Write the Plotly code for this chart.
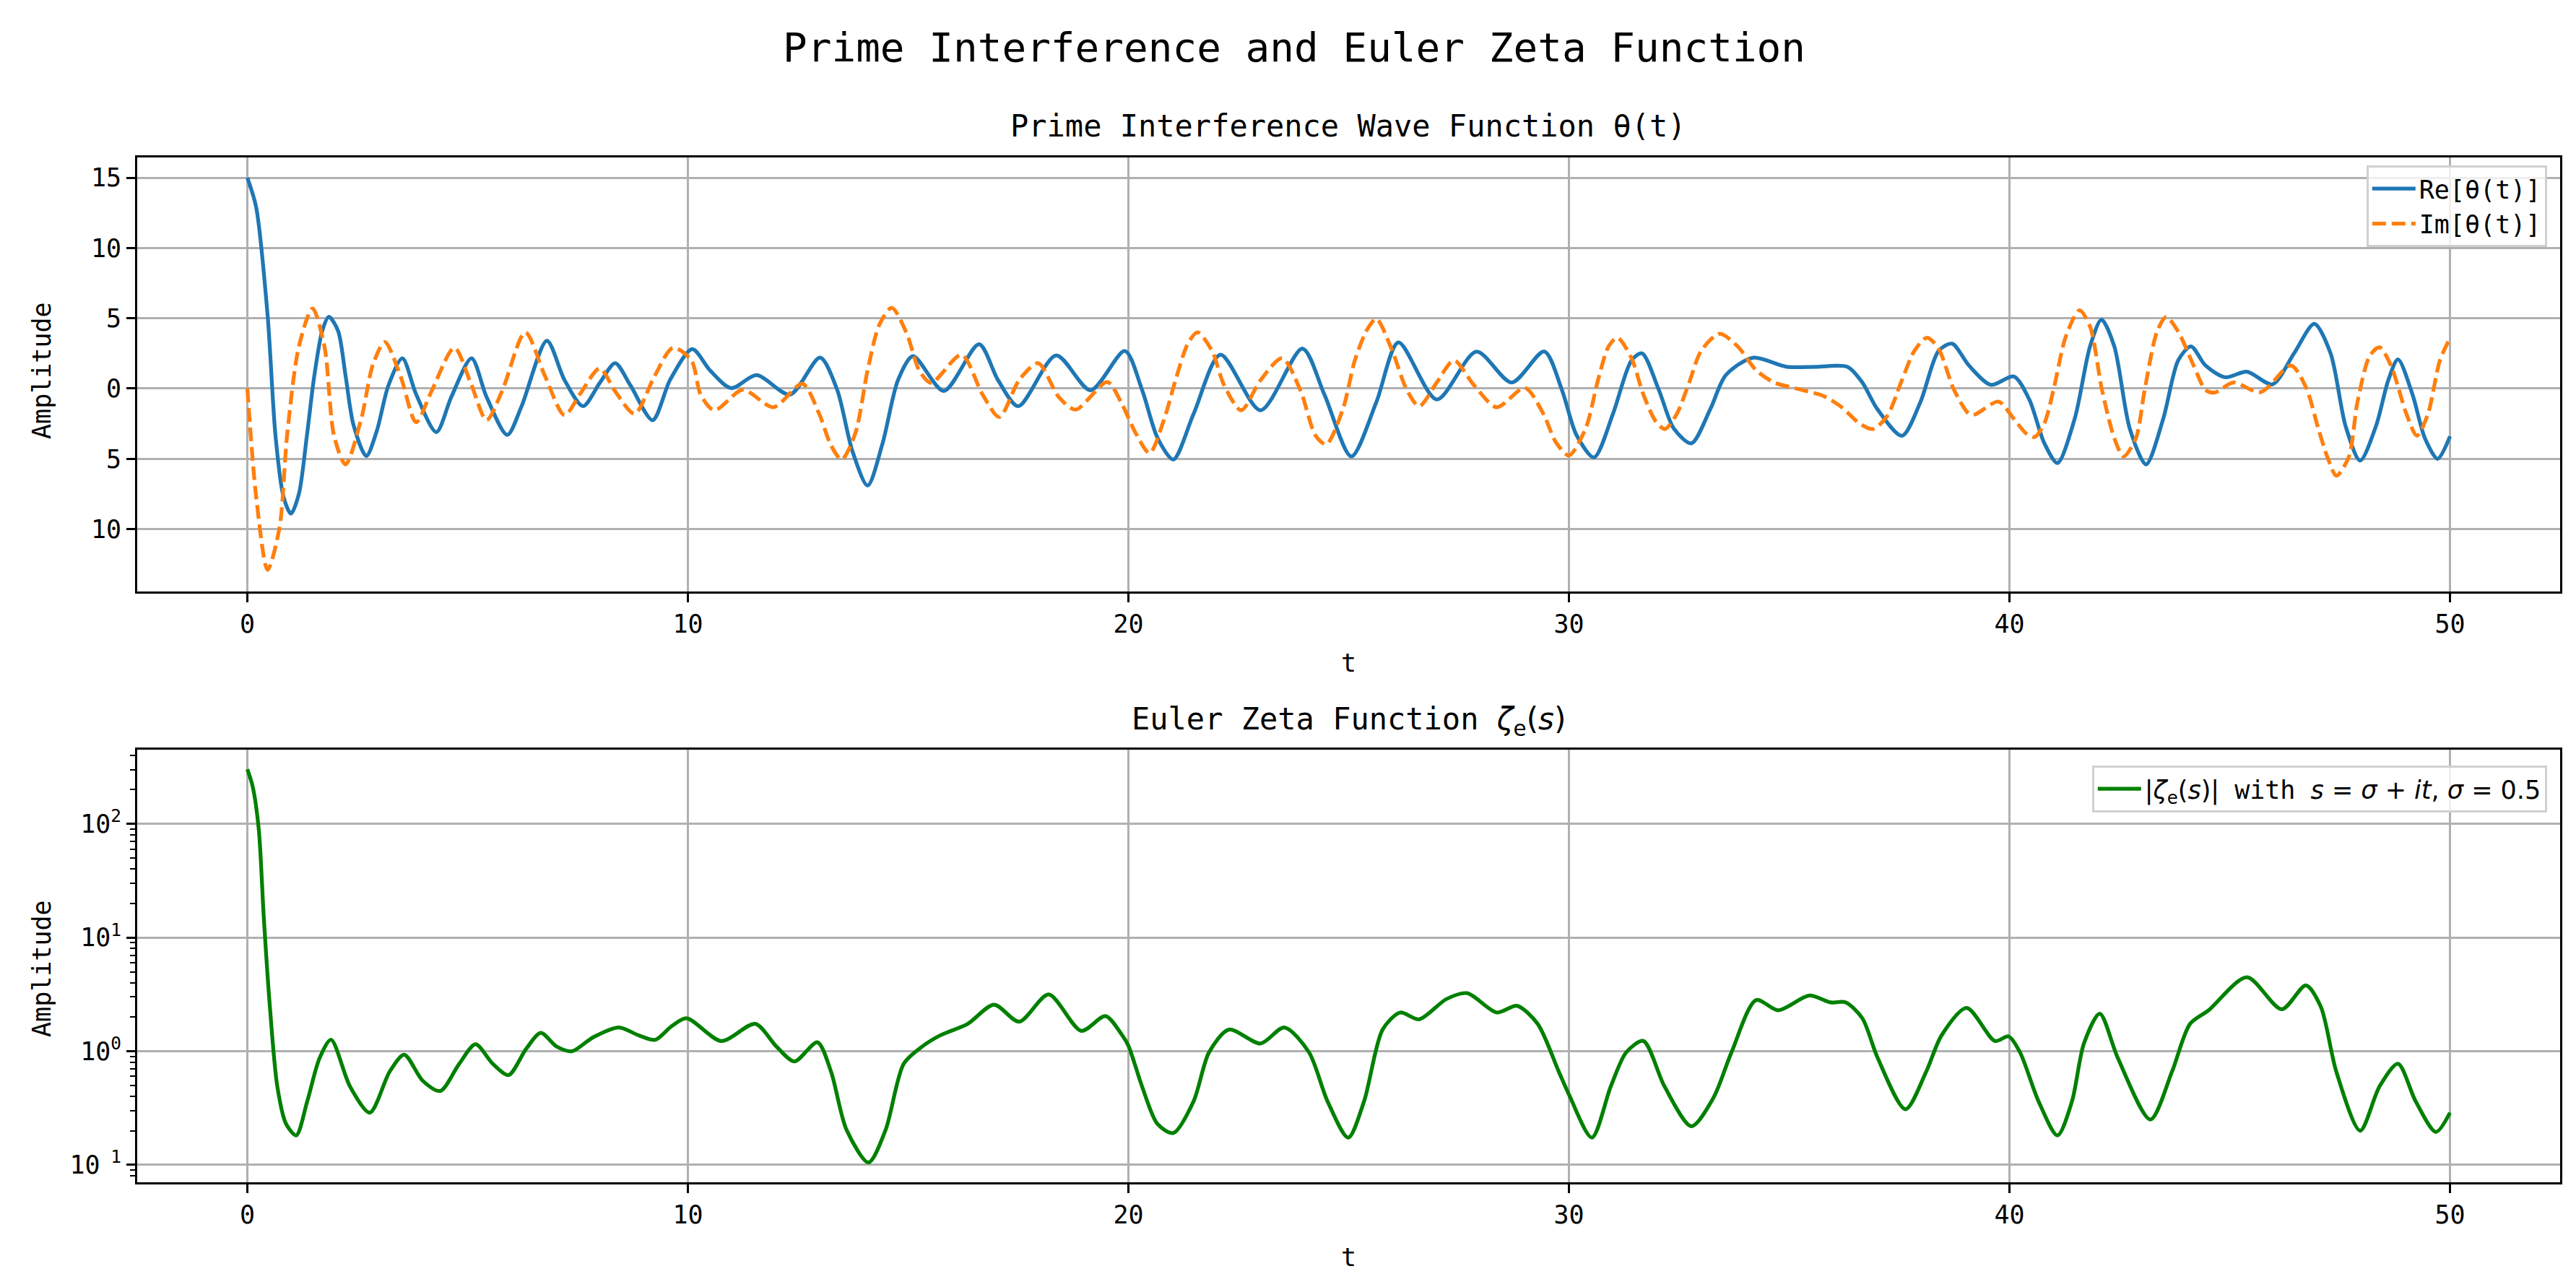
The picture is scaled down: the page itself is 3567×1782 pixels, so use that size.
import plotly.graph_objects as go

# values (local peaks/troughs and a few points between)
t_re = [0, 0.2, 0.46, 0.64, 0.82, 0.99, 1.17, 1.35, 1.52, 1.7, 1.85, 2.06, 2.23, 2.41, 2.7,
        2.94, 3.2, 3.52, 3.83, 4.29, 4.63, 5.09, 5.43, 5.9, 6.22, 6.8, 7.2, 7.62, 8.0, 8.35,
        8.7, 9.2, 9.6, 10.1, 10.5, 10.98, 11.56, 12.32, 13.0, 13.39, 13.73, 14.08, 14.42,
        14.77, 15.11, 15.81, 16.61, 17.04, 17.5, 18.36, 19.14, 19.92, 20.31, 20.66, 21.02,
        21.48, 22.09, 23.0, 23.95, 24.45, 25.06, 25.63, 26.13, 27.0, 27.9, 28.7, 29.44,
        29.84, 30.17, 30.57, 31.0, 31.42, 31.66, 32.04, 32.38, 32.78, 33.21, 33.56, 34.18,
        34.94, 35.63, 36.32, 36.66, 37.0, 37.56, 37.98, 38.39, 38.7, 39.08, 39.58, 40.1,
        40.45, 40.79, 41.09, 41.48, 41.83, 42.09, 42.38, 42.73, 43.1, 43.49, 43.83, 44.12,
        44.45, 44.9, 45.39, 45.97, 46.46, 46.92, 47.29, 47.63, 47.96, 48.32, 48.6, 48.82,
        49.15, 49.43, 49.72, 50.0]
re_theta = [15, 12.9, 5.2, -3.4, -7.7, -8.9, -7.5, -3.4, 0.9, 4.1, 5.1, 4.1, 0.9, -2.6, -4.8,
            -3.0, 0.2, 2.15, -0.4, -3.1, -0.6, 2.15, -0.6, -3.3, -1.3, 3.4, 0.6, -1.25, 0.4, 1.8,
            0.2, -2.25, 0.64, 2.8, 1.3, 0.03, 0.95, -0.43, 2.2, -0.1, -4.4, -6.9, -3.9,
            0.6, 2.3, -0.17, 3.15, 0.6, -1.26, 2.36, -0.12, 2.67, -0.09, -3.5, -5.05,
            -1.8, 2.41, -1.55, 2.84, -0.43, -4.83, -0.95, 3.28, -0.78, 2.62, 0.43, 2.64,
            -0.09, -3.3, -4.9, -1.8, 2.0, 2.5, -0.09, -2.84, -3.9, -1.46, 0.95, 2.19,
            1.55, 1.55, 1.55, 0.43, -1.46, -3.36, -0.95, 2.67, 3.19, 1.64, 0.26, 0.86,
            -0.78, -3.88, -5.3, -2.16, 3.0, 4.9, 3.0, -2.84, -5.4, -2.16, 2.0, 3.0,
            1.64, 0.8, 1.2, 0.3, 2.5, 4.6, 2.5, -2.67, -5.12, -2.67, 0.6, 2.07,
            -0.43, -3.53, -5.0, -3.4]

t_im = [0, 0.2, 0.46, 0.73, 0.9, 1.17, 1.48, 1.75, 1.97, 2.23, 2.59, 2.85, 3.12, 3.48, 3.83,
        4.18, 4.7, 5.07, 5.43, 5.78, 6.31, 6.76, 7.2, 7.55, 8.0, 8.35, 8.79, 9.24, 9.66,
        10.08, 10.29, 10.6, 11.25, 11.94, 12.6, 12.98, 13.25, 13.49, 13.8, 14.08, 14.35,
        14.63, 14.97, 15.25, 15.52, 16.21, 16.69, 17.07, 17.52, 17.95, 18.42, 18.8, 19.52,
        19.83, 20.17, 20.48, 20.8, 21.07, 21.35, 21.57, 21.9, 22.17, 22.56, 23.0, 23.49,
        23.9, 24.25, 24.49, 24.87, 25.14, 25.42, 25.63, 25.97, 26.32, 26.6, 27.0, 27.39,
        27.84, 28.36, 29.0, 29.42, 29.7, 30.0, 30.38, 30.66, 30.9, 31.1, 31.42, 31.69,
        31.97, 32.18, 32.45, 32.73, 33.0, 33.42, 33.83, 34.25, 34.66, 35.28, 35.77, 36.18,
        36.6, 36.9, 37.22, 37.56, 37.84, 38.13, 38.39, 38.74, 39.08, 39.22, 39.75, 40.1,
        40.38, 40.57, 40.79, 41.0, 41.28, 41.59, 41.83, 42.1, 42.38, 42.59, 42.87, 43.07,
        43.35, 43.56, 43.83, 44.18, 44.45, 44.66, 45.08, 45.7, 46.39, 46.73, 47.01, 47.22,
        47.42, 47.7, 47.9, 48.18, 48.4, 48.66, 49.01, 49.25, 49.5, 49.77, 50.0]
im_theta = [0, -7.7, -12.9, -9.9, -3.4, 3.0, 5.7, 3.0, -3.4, -5.4, -2.1, 1.7, 3.3, 0.86, -2.4,
            -0.2, 2.9, 0.4, -2.25, -0.2, 4.0, 0.86, -1.9, -0.4, 1.44, -0.2, -1.8, 0.86, 2.9,
            2.0, -0.43, -1.55, -0.09, -1.33, 0.34, -1.8, -4.05, -5.05, -3.2, 1.3, 4.57,
            5.74, 3.9, 1.3, 0.4, 2.4, -0.43, -2.03, 0.6, 1.8, -0.6, -1.5, 0.47,
            -0.95, -3.2, -4.6, -2.3, 0.6, 3.2, 4.0, 2.67, 0.26, -1.55, 0.6, 2.16,
            -0.09, -3.36, -3.97, -1.46, 2.0, 4.2, 4.95, 2.84, -0.09, -1.26, 0.43, 2.0,
            0.26, -1.33, 0.05, -1.8, -3.8, -4.76, -2.84, 0.6, 3.0, 3.62, 2.16, -0.43,
            -2.33, -2.88, -1.8, 0.43, 2.67, 3.9, 3.0, 1.3, 0.43, -0.09, -0.52, -1.3,
            -2.5, -2.88, -1.98, 0.6, 2.67, 3.62, 2.84, -0.09, -1.8, -1.84, -0.93, -2.16,
            -3.2, -3.45, -2.5, -0.09, 3.7, 5.57, 4.4, -0.09, -3.53, -4.83, -3.53, -0.09,
            4.05, 5.09, 4.05, 1.64, -0.09, -0.29, 0.43, -0.26, 1.64, 0.09, -2.84, -4.9,
            -6.2, -4.9, -0.95, 2.33, 2.93, 1.64, -1.8, -3.36, -1.8, 1.98, 3.6]

t_zeta = [0, 0.12, 0.26, 0.37, 0.5, 0.68, 0.88, 1.11, 1.36, 1.64, 1.9, 2.33, 2.78, 3.23, 3.56,
          3.98, 4.38, 4.81, 5.18, 5.57, 5.93, 6.33, 6.66, 7.02, 7.37, 7.84, 8.43, 8.88, 9.26,
          9.63, 9.97, 10.76, 11.53, 12.01, 12.42, 12.94, 13.25, 13.6, 14.1, 14.49, 14.9,
          15.32, 15.73, 16.35, 16.95, 17.52, 18.19, 18.93, 19.48, 19.86, 20.0, 20.31, 20.66,
          21.02, 21.48, 21.83, 22.28, 23.0, 23.54, 24.1, 24.52, 24.99, 25.35, 25.77, 26.17,
          26.6, 27.22, 27.69, 28.36, 28.82, 29.29, 29.77, 30.0, 30.52, 30.95, 31.3, 31.69,
          32.17, 32.78, 33.28, 33.69, 34.25, 34.75, 35.46, 35.94, 36.28, 36.66, 37.01, 37.64,
          38.11, 38.46, 39.03, 39.67, 39.98, 40.24, 40.66, 41.09, 41.42, 41.69, 42.05, 42.46,
          43.2, 43.69, 44.1, 44.52, 45.39, 46.18, 46.73, 47.07, 47.42, 47.96, 48.4, 48.82,
          49.22, 49.68, 50.0]
zeta_abs = [302, 214, 89.1, 15.8, 2.82, 0.49, 0.229, 0.182, 0.363, 0.871, 1.26, 0.49, 0.288, 0.661, 0.933,
            0.55, 0.447, 0.776, 1.15, 0.776, 0.617, 1.05, 1.45, 1.10, 1.0, 1.32, 1.62, 1.38, 1.26,
            1.66, 1.95, 1.23, 1.74, 1.10, 0.813, 1.20, 0.661, 0.204, 0.105, 0.204, 0.776,
            1.10, 1.38, 1.74, 2.57, 1.82, 3.16, 1.51, 2.04, 1.38, 1.12, 0.49, 0.229,
            0.191, 0.363, 0.977, 1.55, 1.17, 1.62, 0.977, 0.363, 0.174, 0.363, 1.55, 2.19,
            1.91, 2.88, 3.24, 2.19, 2.51, 1.74, 0.661, 0.417, 0.174, 0.49, 0.977, 1.23,
            0.49, 0.219, 0.389, 0.977, 2.82, 2.29, 3.09, 2.69, 2.69, 1.95, 0.871, 0.309,
            0.661, 1.38, 2.40, 1.23, 1.35, 0.977, 0.363, 0.182, 0.363, 1.17, 2.14, 0.871,
            0.251, 0.661, 1.74, 2.29, 4.47, 2.34, 3.80, 2.45, 0.661, 0.2, 0.49, 0.776,
            0.363, 0.195, 0.288]

x_ticks = [0, 10, 20, 30, 40, 50]
top_ticks = [-10, -5, 0, 5, 10, 15]
top_ticktext = ["10", "5", "0", "5", "10", "15"]   # the reference font drops the minus sign
log_ticks = [0.1, 1, 10, 100]
log_ticktext = ["10<sup> 1</sup>", "10<sup>0</sup>", "10<sup>1</sup>", "10<sup>2</sup>"]
log_minor = [0.08, 0.09, 0.2, 0.3, 0.4, 0.5, 0.6, 0.7, 0.8, 0.9,
             2, 3, 4, 5, 6, 7, 8, 9, 20, 30, 40, 50, 60, 70, 80, 90, 200, 300, 400]

FONT = "DejaVu Sans Mono"
W, H = 3567, 1782
LW = 5.25

fig = go.Figure()
fig.add_trace(go.Scatter(x=t_re, y=re_theta, mode="lines", name="Re[θ(t)]",
                         line=dict(color="#1f77b4", width=LW, shape="spline", smoothing=0.8),
                         xaxis="x", yaxis="y", legend="legend"))
fig.add_trace(go.Scatter(x=t_im, y=im_theta, mode="lines", name="Im[θ(t)]",
                         line=dict(color="#ff7f0e", width=LW, dash="19px,8px",
                                   shape="spline", smoothing=0.8),
                         xaxis="x", yaxis="y", legend="legend"))
fig.add_trace(go.Scatter(x=t_zeta, y=zeta_abs, mode="lines",
                         name=('<span style="font-family:DejaVu Sans">|<i>ζ</i><sub>e</sub>(<i>s</i>)|</span>'
                               ' with <span style="font-family:DejaVu Sans"><i>s</i> = <i>σ</i> + <i>it</i>,'
                               ' <i>σ</i> = 0.5</span>'),
                         line=dict(color="green", width=LW, shape="spline", smoothing=0.8),
                         xaxis="x2", yaxis="y2", legend="legend2"))

x_dom = [182 / W, 3537 / W]
axis_common = dict(showline=True, linecolor="black", linewidth=2.8, mirror=True,
                   ticks="outside", ticklen=12, tickwidth=2.8, tickcolor="black",
                   showgrid=True, gridcolor="#b0b0b0", gridwidth=2.8, zeroline=False,
                   tickfont=dict(family=FONT, size=35, color="black"))
legend_common = dict(x=3519 / W, xanchor="right", yanchor="top",
                     bgcolor="rgba(255,255,255,0.8)", bordercolor="#d0d0d0", borderwidth=2.8,
                     itemwidth=60, font=dict(family=FONT, size=35, color="black"))

fig.update_layout(
    width=W, height=H,
    paper_bgcolor="white", plot_bgcolor="white",
    margin=dict(l=0, r=0, t=0, b=0),
    font=dict(family=FONT, size=35, color="black"),
    xaxis=dict(domain=x_dom, anchor="y", range=[-2.5, 52.5], tickmode="array",
               tickvals=x_ticks, **axis_common),
    yaxis=dict(domain=[1 - 811 / H, 1 - 210 / H], anchor="x", range=[-14.44, 16.44],
               tickmode="array", tickvals=top_ticks, ticktext=top_ticktext, **axis_common),
    xaxis2=dict(domain=x_dom, anchor="y2", range=[-2.5, 52.5], tickmode="array",
                tickvals=x_ticks, **axis_common),
    yaxis2=dict(domain=[1 - 1629 / H, 1 - 1030 / H], anchor="x2", type="log",
                range=[-1.153, 2.653], tickmode="array", tickvals=log_ticks,
                ticktext=log_ticktext,
                minor=dict(tickmode="array", tickvals=log_minor, ticks="outside",
                           ticklen=7, tickwidth=2, tickcolor="black", showgrid=False),
                **axis_common),
    legend=dict(y=1 - 221 / H, **legend_common),
    legend2=dict(y=1 - 1052 / H, **legend_common),
    showlegend=True,
)

annotations = [
    dict(text="Prime Interference and Euler Zeta Function", x=0.5, y=1 - 57 / H,
         font=dict(size=56)),
    dict(text="Prime Interference Wave Function θ(t)", x=0.5213, y=1 - 166 / H,
         font=dict(size=42)),
    dict(text='Euler Zeta Function <span style="font-family:DejaVu Sans"><i>ζ</i><sub>e</sub>(<i>s</i>)</span>',
         x=0.5213, y=1 - 990 / H, font=dict(size=42)),
    dict(text="t", x=0.5213, y=1 - 910 / H, font=dict(size=35)),
    dict(text="t", x=0.5213, y=1 - 1733 / H, font=dict(size=35)),
    dict(text="Amplitude", x=50 / W, y=1 - 505 / H, textangle=-90, font=dict(size=35)),
    dict(text="Amplitude", x=50 / W, y=1 - 1333 / H, textangle=-90, font=dict(size=35)),
]
for a in annotations:
    a.update(xref="paper", yref="paper", showarrow=False, xanchor="center", yanchor="middle")
    a["font"].update(family=FONT, color="black")
fig.update_layout(annotations=annotations)

fig.write_html("out.html")
